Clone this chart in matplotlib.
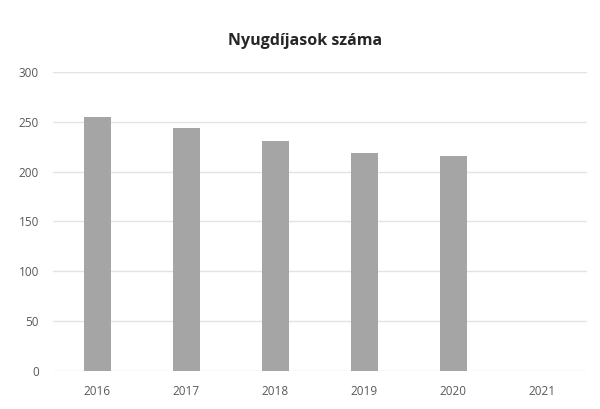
import numpy as np
import matplotlib
matplotlib.use('Agg')
import matplotlib.pyplot as plt

# values
years = ['2016', '2017', '2018', '2019', '2020', '2021']
pensioners = [255, 244, 231, 219, 216, 0]   # no bar for 2021
yticks = [0, 50, 100, 150, 200, 250, 300]

title = 'Nyugdíjasok száma'
bar_color = '#a5a5a5'
text_color = '#595959'

plt.rcParams['font.family'] = ['Open Sans', 'DejaVu Sans']

fig = plt.figure(figsize=(6, 4.09), dpi=100)
ax = fig.add_axes([0.088, 0.093, 0.89, 0.731])

x = np.arange(len(years))
ax.bar(x, pensioners, width=0.31, color=bar_color, linewidth=0, zorder=3)

ax.set_xlim(-0.5, len(years) - 0.5)
ax.set_ylim(0, 300)
ax.set_yticks(yticks)
ax.set_xticks(x)
ax.set_xticklabels(years)

ax.grid(axis='y', color='#e3e3e3', linewidth=1, zorder=0)
for spine in ax.spines.values():
    spine.set_visible(False)
ax.tick_params(axis='both', length=0, labelsize=8.5, labelcolor=text_color)
ax.tick_params(axis='y', pad=10)
ax.tick_params(axis='x', pad=10)

fig.text(305 / 600, 1 - 41 / 409, title, ha='center', va='center',
         fontsize=11.5, fontweight='bold', color='#262626')

fig.savefig('out.png', dpi=100)
